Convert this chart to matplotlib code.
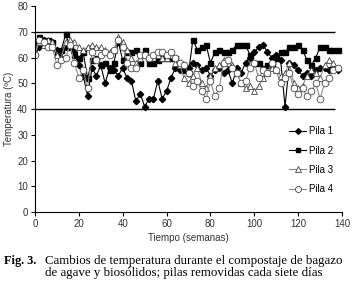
import matplotlib
matplotlib.use('Agg')
import matplotlib.pyplot as plt

# weeks sampled every two weeks
semanas = list(range(0, 140, 2))

pila1 = [61, 64, 67, 66, 66, 63, 60, 64, 65, 62, 57, 53, 45, 56, 53, 57, 50, 56, 55, 53,
         56, 52, 51, 43, 46, 41, 44, 44, 51, 44, 47, 52, 56, 55, 57, 56, 58, 57, 55, 56,
         53, 55, 56, 54, 55, 50, 56, 54, 58, 60, 62, 64, 65, 62, 60, 61, 59, 41, 58, 57,
         55, 53, 54, 53, 55, 56, 56, 55, 56, 55]
pila2 = [66, 68, 66, 67, 66, 62, 63, 69, 64, 61, 60, 62, 52, 59, 60, 57, 58, 55, 58, 66,
         59, 62, 62, 63, 58, 63, 58, 58, 59, 60, 60, 60, 60, 57, 55, 54, 67, 63, 64, 65,
         58, 62, 63, 62, 62, 63, 65, 65, 65, 61, 58, 58, 56, 57, 58, 60, 62, 62, 64, 64,
         65, 63, 59, 57, 60, 64, 64, 63, 63, 63]
pila3 = [62, 66, 65, 67, 66, 61, 60, 66, 67, 66, 64, 63, 64, 65, 64, 64, 63, 62, 63, 68,
         66, 63, 60, 58, 60, 61, 60, 61, 61, 60, 60, 61, 58, 57, 52, 50, 53, 56, 50, 48,
         53, 56, 57, 59, 58, 57, 54, 50, 48, 49, 47, 49, 52, 54, 56, 55, 53, 54, 58, 50,
         48, 49, 53, 55, 54, 52, 57, 59, 58, 56]
pila4 = [61, 67, 66, 64, 64, 57, 59, 60, 65, 58, 52, 55, 48, 62, 59, 61, 62, 61, 63, 67,
         64, 58, 56, 56, 61, 61, 60, 61, 62, 62, 61, 62, 60, 58, 57, 54, 49, 51, 47, 44,
         51, 45, 48, 58, 59, 56, 54, 50, 51, 56, 58, 52, 55, 54, 58, 55, 50, 52, 54, 48,
         46, 48, 45, 47, 50, 44, 50, 52, 55, 56]

plt.rcParams['font.family'] = ['Liberation Sans', 'DejaVu Sans']

fig = plt.figure(figsize=(3.53, 2.89), dpi=100)
ax = fig.add_axes([0.099, 0.266, 0.870, 0.713])

gris = '#8c8c8c'
ax.plot(semanas, pila1, color='black', lw=0.8, marker='D', ms=3.2,
        mfc='black', mec='black', label='Pila 1')
ax.plot(semanas, pila2, color='black', lw=0.8, marker='s', ms=3.6,
        mfc='black', mec='black', label='Pila 2')
ax.plot(semanas, pila3, color=gris, lw=0.8, marker='^', ms=4.5,
        mfc='white', mec='#444444', mew=0.6, label='Pila 3')
ax.plot(semanas, pila4, color=gris, lw=0.8, marker='o', ms=4.8,
        mfc='white', mec='#444444', mew=0.6, label='Pila 4')

ax.hlines([70, 40], 0, 137, colors='black', lw=1.0)

ax.set_xlim(0, 140)
ax.set_ylim(0, 80)
ax.set_xticks(range(0, 141, 20))
ax.set_yticks(range(0, 81, 10))
ax.spines['top'].set_visible(False)
ax.spines['right'].set_visible(False)
ax.tick_params(axis='both', labelsize=7, length=3, width=0.8, colors='black',
               labelcolor='#333333', pad=2)
ax.set_xlabel('Tiempo (semanas)', fontsize=7, color='#333333', labelpad=3)
ax.set_ylabel('Temperatura (ºC)', fontsize=7, color='#333333', labelpad=2)

ax.legend(loc='lower right', bbox_to_anchor=(1.0, 0.045), frameon=False, fontsize=7,
          handlelength=1.8, handletextpad=0.3, labelspacing=0.95, markerscale=0.9)

fig.text(0.010, 0.087, 'Fig. 3.', family='Liberation Serif', fontweight='bold',
         fontsize=8.8)
fig.text(0.127, 0.087, 'Cambios de temperatura durante el compostaje de bagazo',
         family='Liberation Serif', fontsize=9.3)
fig.text(0.127, 0.045, 'de agave y biosólidos; pilas removidas cada siete días',
         family='Liberation Serif', fontsize=9.3)

fig.savefig('out.png', dpi=100)
